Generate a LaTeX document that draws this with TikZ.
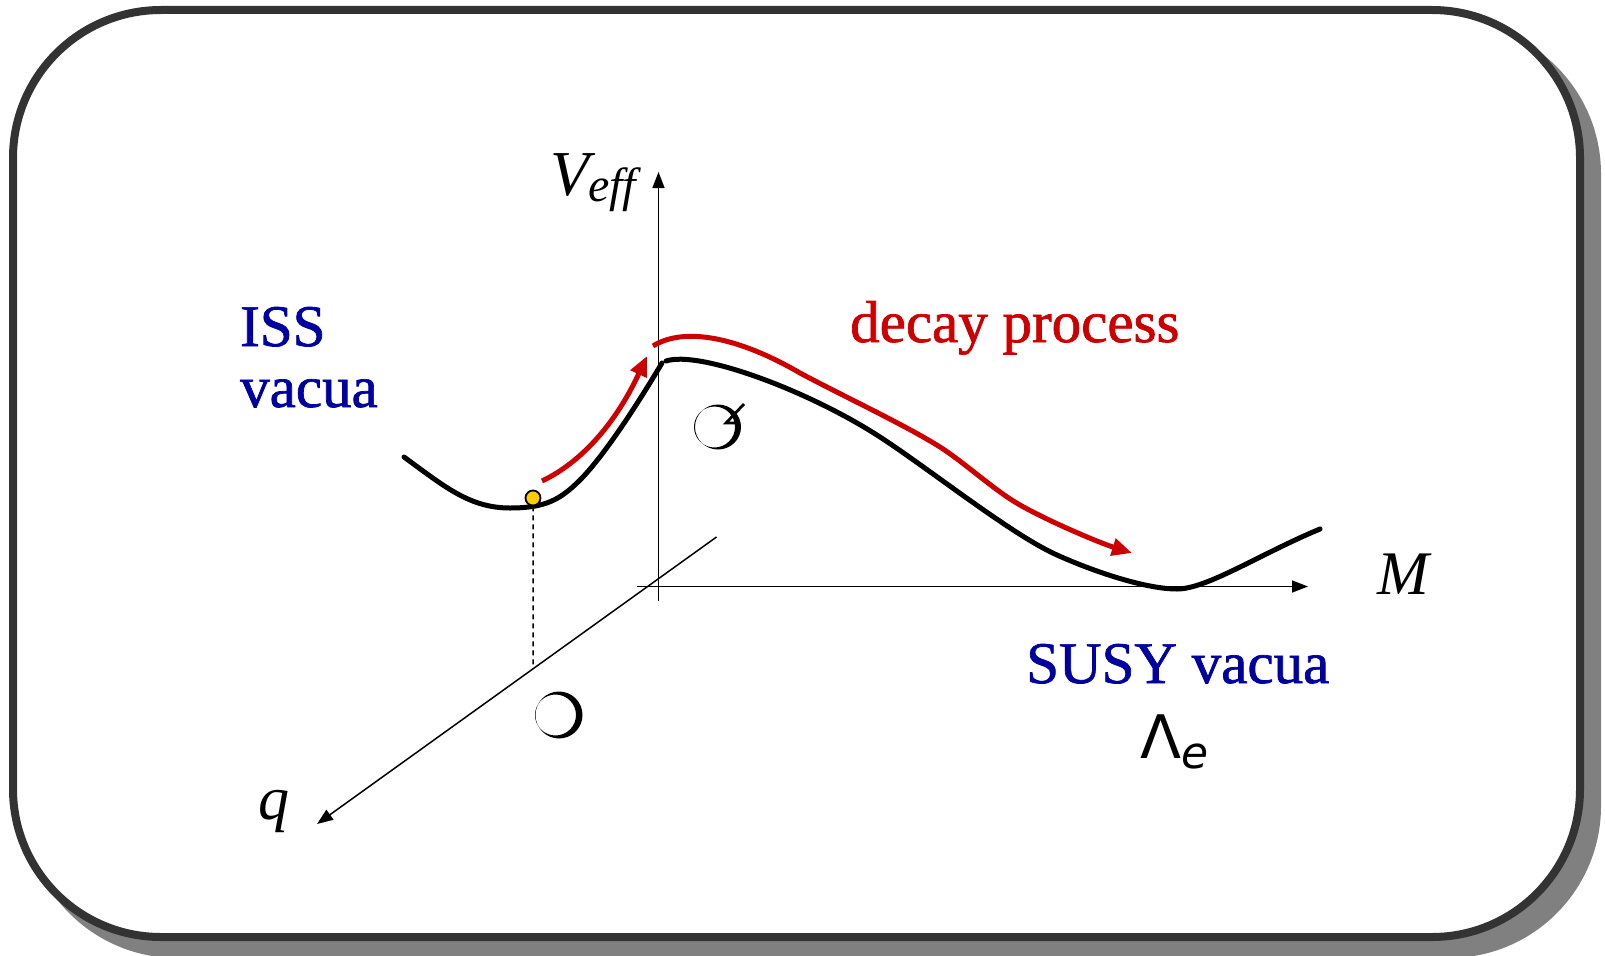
\documentclass[tikz,border=0pt]{standalone}
\usepackage{fontspec}
\setmainfont{Liberation Serif}
\newfontfamily\heavyserif[FakeBold=1.2]{Liberation Serif}
\newfontfamily\djs{DejaVu Sans}
\usetikzlibrary{arrows.meta,calc}
\definecolor{framegray}{HTML}{333333}
\definecolor{shadowgray}{HTML}{808080}
\definecolor{navy}{HTML}{0000A0}
\definecolor{darkred}{HTML}{CC0000}
\definecolor{dotyellow}{HTML}{FFCC00}
\tikzset{
  axisline/.style={line width=1.5pt, -{Triangle[length=16pt,width=12pt]}},
  pot/.style={line width=5pt, line cap=round},
  redarrow/.style={darkred, line width=5pt, -{Triangle[length=20pt,width=17pt]}},
  lbl/.style={anchor=base west, inner sep=0pt},
  bluetext/.style={lbl, text=navy, font=\heavyserif\fontsize{59}{59}\selectfont},
}
\begin{document}
\begin{tikzpicture}[x=1pt,y=-1pt]
\useasboundingbox (0,0) rectangle (1605,955);
% frame with shadow
\fill[shadowgray, rounded corners=152pt] (25,22) rectangle (1601,958);
\draw[framegray, line width=8pt, fill=white, rounded corners=148pt] (13,10) rectangle (1580,937);

% axes
\coordinate (vbot) at (658.5,601);
\coordinate (vtop) at (658.5,172);
\coordinate (hl) at (637,586.5);
\coordinate (hr) at (1308,586.5);
\coordinate (qa) at (716.5,537);
\coordinate (qb) at (317,824);
\draw[axisline] (vbot) -- (vtop);
\draw[axisline] (hl) -- (hr);
\draw[axisline] (qa) -- (qb);

% potential curve
\draw[pot] (404,457) .. controls (445,487) and (470,508) .. (510,508)
  .. controls (545,508) and (560,500) .. (580,480)
  .. controls (605,455) and (640,400) .. (662,363);
\draw[pot] (666,361) .. controls (700,350) and (810,391.5) .. (880,437)
  .. controls (930,469.5) and (1012,535) .. (1057,555)
  .. controls (1097,573) and (1147,589) .. (1177,589)
  .. controls (1207,589) and (1260,554) .. (1320,529);

% red arrows
\draw[redarrow] (542,481) .. controls (580,463) and (615,425) .. (647,356);
\draw[redarrow] (653,346) .. controls (685,326) and (740,338) .. (800,373)
  .. controls (845,397) and (905,425) .. (940,447)
  .. controls (965,463) and (995,491) .. (1020,505)
  .. controls (1050,522) and (1100,543) .. (1132,553);

% ball and dashed projection
\coordinate (qd) at ($(qa)!0.459!(qb)$);
\node[circle, fill=dotyellow, draw=black, line width=1.8pt, minimum size=15pt, inner sep=0pt] (ball) at (533,498) {};
\draw[line width=1.5pt, dash pattern=on 5pt off 4pt] (ball.south) -- (qd);

% glyph shapes
\fill[even odd rule] (559,715) ellipse (23.5pt and 23.5pt) (555.5,715) ellipse (20.5pt and 20.5pt);
\fill[even odd rule] (718,427) ellipse (23pt and 22.5pt) (714.5,427) ellipse (20.5pt and 20.5pt);
\draw[line width=2.8pt, line join=miter] (744,404) -- (726,423) -- (739,423);

% labels
\node[lbl] (veff) at (550,195) {\fontsize{64}{64}\selectfont\itshape V\kern-1pt\raisebox{-6pt}{\fontsize{48}{48}\selectfont eff}};
\node[lbl] (mlab) at (1377,594) {\fontsize{62}{62}\selectfont\itshape M};
\node[lbl] (qlab) at (258,819) {\fontsize{62}{62}\selectfont\itshape q};
\node[bluetext] (iss) at (240,346) {ISS};
\node[bluetext] (vac) at (240,407) {vacua};
\node[lbl, text=darkred, font=\heavyserif\fontsize{59}{59}\selectfont] (decay) at (850,342) {decay process};
\node[bluetext] (susy) at (1026,683) {SUSY vacua};
\node[lbl] (lam) at (1140,758) {\djs\fontsize{60}{60}\selectfont Λ\raisebox{-10pt}{\fontsize{44}{44}\selectfont\itshape e}};
\end{tikzpicture}
\end{document}
